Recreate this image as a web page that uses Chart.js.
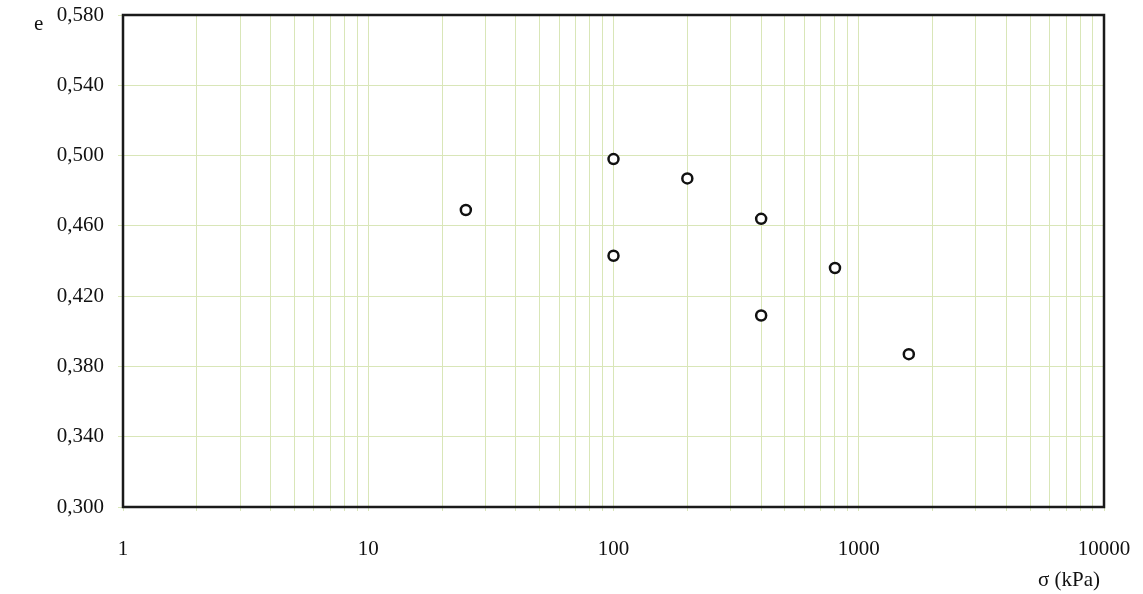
<!DOCTYPE html>
<html>
<head>
<meta charset="utf-8">
<script src="https://cdn.jsdelivr.net/npm/chart.js@4/dist/chart.umd.min.js"></script>
<style>
  html, body { margin: 0; padding: 0; background: #fff; }
  #wrap { width: 1143px; height: 594px; }
</style>
</head>
<body>
<div id="wrap"><canvas id="graph1"></canvas></div>
<script>
// données
const sigma = [25, 100, 100, 200, 400, 400, 800, 1600];   // kPa
const voids = [0.469, 0.498, 0.443, 0.487, 0.464, 0.409, 0.436, 0.387];
const xDecades = [1, 10, 100, 1000, 10000];
const yTicks = [0.300, 0.340, 0.380, 0.420, 0.460, 0.500, 0.540, 0.580];

const serif = '"Liberation Serif", "Times New Roman", serif';
const gridColor = '#d9e6b8';

let ctx = document.querySelector('#graph1');

// cadre noir + libellés "e" et "σ (kPa)"
const frame = {
  id: 'frame',
  afterDraw(chart) {
    const a = chart.chartArea;
    const c = chart.ctx;
    c.save();
    c.strokeStyle = '#1a1a1a';
    c.lineWidth = 2.5;
    c.strokeRect(a.left, a.top, a.right - a.left, a.bottom - a.top);
    c.fillStyle = '#111';
    c.font = '21px ' + serif;
    c.textBaseline = 'middle';
    c.textAlign = 'left';
    c.fillText('e', 34, 24);
    c.textAlign = 'right';
    c.fillText('\u03C3 (kPa)', 1100, 580);
    c.restore();
  }
};

const data = {
  datasets: [{
    data: sigma.map((s, i) => ({ x: s, y: voids[i] })),
    pointRadius: 5,
    pointHoverRadius: 5,
    pointBorderWidth: 2.5,
    pointBorderColor: '#111',
    pointBackgroundColor: '#fff',
    showLine: false
  }]
};

const config = {
  type: 'scatter',
  data: data,
  plugins: [frame],
  options: {
    responsive: false,
    animation: false,
    layout: { padding: { left: 0, right: 39, top: 15, bottom: 0 } },
    plugins: { legend: { display: false }, tooltip: { enabled: false } },
    scales: {
      x: {
        type: 'logarithmic',
        min: 1,
        max: 10000,
        afterBuildTicks: (axis) => {
          const t = [];
          for (let d = 1; d < 10000; d *= 10) {
            for (let k = 1; k < 10; k++) t.push({ value: k * d });
          }
          t.push({ value: 10000 });
          axis.ticks = t;
        },
        afterFit: (axis) => {
          axis.height = 87;
          axis.paddingLeft = 0;
          axis.paddingRight = 0;
        },
        grid: { color: gridColor, lineWidth: 1, tickLength: 4 },
        border: { display: false },
        ticks: {
          autoSkip: false,
          maxRotation: 0,
          padding: 26,
          color: '#111',
          font: { family: serif, size: 21 },
          callback: (v) => xDecades.includes(v) ? String(v) : ''
        }
      },
      y: {
        min: 0.300,
        max: 0.580,
        afterBuildTicks: (axis) => { axis.ticks = yTicks.map(v => ({ value: v })); },
        afterFit: (axis) => {
          axis.width = 123;
          axis.paddingTop = 0;
          axis.paddingBottom = 0;
        },
        grid: { color: gridColor, lineWidth: 1, tickLength: 5 },
        border: { display: false },
        ticks: {
          padding: 14,
          color: '#111',
          font: { family: serif, size: 21 },
          callback: (v) => v.toFixed(3).replace('.', ',')
        }
      }
    }
  }
};

ctx.width = 1143;
ctx.height = 594;
const graph1 = new Chart(ctx, config);
</script>
</body>
</html>
